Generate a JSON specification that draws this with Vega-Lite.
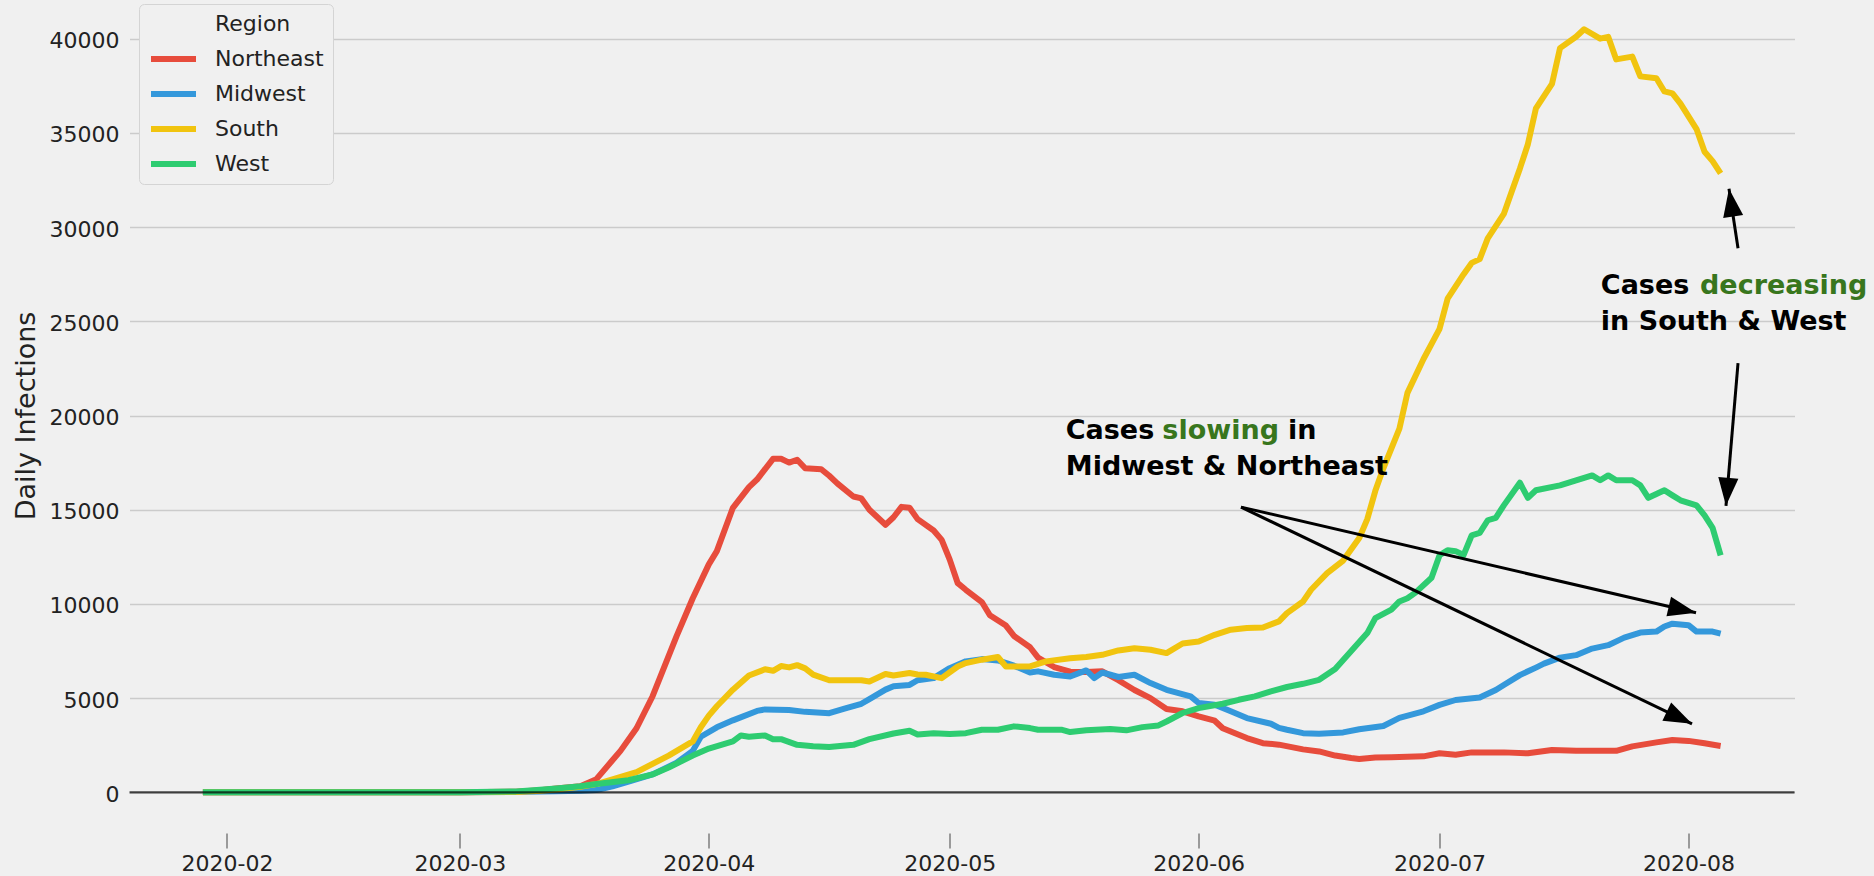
{
  "$schema": "https://vega.github.io/schema/vega-lite/v6.json",
  "width": 1665,
  "height": 829,
  "autosize": {"type": "none"},
  "padding": {"left": 129.5, "top": 1, "right": 79.5, "bottom": 46},
  "background": "#f0f0f0",
  "config": {"view": {"stroke": null}, "font": "DejaVu Sans"},
  "datasets": {
    "series": [
      {"date": "2020-01-29", "region": "Northeast", "cases": 0},
      {"date": "2020-02-15", "region": "Northeast", "cases": 0},
      {"date": "2020-03-01", "region": "Northeast", "cases": 3},
      {"date": "2020-03-08", "region": "Northeast", "cases": 30},
      {"date": "2020-03-11", "region": "Northeast", "cases": 110},
      {"date": "2020-03-13", "region": "Northeast", "cases": 200},
      {"date": "2020-03-16", "region": "Northeast", "cases": 320},
      {"date": "2020-03-18", "region": "Northeast", "cases": 700},
      {"date": "2020-03-20", "region": "Northeast", "cases": 1700},
      {"date": "2020-03-21", "region": "Northeast", "cases": 2200},
      {"date": "2020-03-23", "region": "Northeast", "cases": 3400},
      {"date": "2020-03-25", "region": "Northeast", "cases": 5100},
      {"date": "2020-03-28", "region": "Northeast", "cases": 8300},
      {"date": "2020-03-30", "region": "Northeast", "cases": 10300},
      {"date": "2020-04-01", "region": "Northeast", "cases": 12100},
      {"date": "2020-04-02", "region": "Northeast", "cases": 12800},
      {"date": "2020-04-04", "region": "Northeast", "cases": 15100},
      {"date": "2020-04-06", "region": "Northeast", "cases": 16200},
      {"date": "2020-04-07", "region": "Northeast", "cases": 16600},
      {"date": "2020-04-09", "region": "Northeast", "cases": 17700},
      {"date": "2020-04-10", "region": "Northeast", "cases": 17700},
      {"date": "2020-04-11", "region": "Northeast", "cases": 17500},
      {"date": "2020-04-12", "region": "Northeast", "cases": 17650},
      {"date": "2020-04-13", "region": "Northeast", "cases": 17200},
      {"date": "2020-04-15", "region": "Northeast", "cases": 17150},
      {"date": "2020-04-16", "region": "Northeast", "cases": 16800},
      {"date": "2020-04-17", "region": "Northeast", "cases": 16400},
      {"date": "2020-04-19", "region": "Northeast", "cases": 15700},
      {"date": "2020-04-20", "region": "Northeast", "cases": 15600},
      {"date": "2020-04-21", "region": "Northeast", "cases": 15000},
      {"date": "2020-04-23", "region": "Northeast", "cases": 14200},
      {"date": "2020-04-24", "region": "Northeast", "cases": 14600},
      {"date": "2020-04-25", "region": "Northeast", "cases": 15150},
      {"date": "2020-04-26", "region": "Northeast", "cases": 15100},
      {"date": "2020-04-27", "region": "Northeast", "cases": 14500},
      {"date": "2020-04-29", "region": "Northeast", "cases": 13900},
      {"date": "2020-04-30", "region": "Northeast", "cases": 13400},
      {"date": "2020-05-01", "region": "Northeast", "cases": 12350},
      {"date": "2020-05-02", "region": "Northeast", "cases": 11100},
      {"date": "2020-05-03", "region": "Northeast", "cases": 10750},
      {"date": "2020-05-05", "region": "Northeast", "cases": 10100},
      {"date": "2020-05-06", "region": "Northeast", "cases": 9400},
      {"date": "2020-05-08", "region": "Northeast", "cases": 8850},
      {"date": "2020-05-09", "region": "Northeast", "cases": 8300},
      {"date": "2020-05-11", "region": "Northeast", "cases": 7700},
      {"date": "2020-05-12", "region": "Northeast", "cases": 7150},
      {"date": "2020-05-14", "region": "Northeast", "cases": 6650},
      {"date": "2020-05-16", "region": "Northeast", "cases": 6400},
      {"date": "2020-05-18", "region": "Northeast", "cases": 6380},
      {"date": "2020-05-20", "region": "Northeast", "cases": 6420},
      {"date": "2020-05-22", "region": "Northeast", "cases": 5950},
      {"date": "2020-05-24", "region": "Northeast", "cases": 5430},
      {"date": "2020-05-26", "region": "Northeast", "cases": 5000},
      {"date": "2020-05-28", "region": "Northeast", "cases": 4420},
      {"date": "2020-05-30", "region": "Northeast", "cases": 4300},
      {"date": "2020-06-01", "region": "Northeast", "cases": 4030},
      {"date": "2020-06-03", "region": "Northeast", "cases": 3800},
      {"date": "2020-06-04", "region": "Northeast", "cases": 3400},
      {"date": "2020-06-07", "region": "Northeast", "cases": 2880},
      {"date": "2020-06-09", "region": "Northeast", "cases": 2610},
      {"date": "2020-06-11", "region": "Northeast", "cases": 2530},
      {"date": "2020-06-14", "region": "Northeast", "cases": 2280},
      {"date": "2020-06-16", "region": "Northeast", "cases": 2170},
      {"date": "2020-06-18", "region": "Northeast", "cases": 1950},
      {"date": "2020-06-20", "region": "Northeast", "cases": 1820},
      {"date": "2020-06-21", "region": "Northeast", "cases": 1770},
      {"date": "2020-06-23", "region": "Northeast", "cases": 1850},
      {"date": "2020-06-25", "region": "Northeast", "cases": 1860},
      {"date": "2020-06-29", "region": "Northeast", "cases": 1910},
      {"date": "2020-07-01", "region": "Northeast", "cases": 2070},
      {"date": "2020-07-03", "region": "Northeast", "cases": 1990},
      {"date": "2020-07-05", "region": "Northeast", "cases": 2120},
      {"date": "2020-07-09", "region": "Northeast", "cases": 2120},
      {"date": "2020-07-12", "region": "Northeast", "cases": 2070},
      {"date": "2020-07-15", "region": "Northeast", "cases": 2250},
      {"date": "2020-07-18", "region": "Northeast", "cases": 2200},
      {"date": "2020-07-20", "region": "Northeast", "cases": 2200},
      {"date": "2020-07-23", "region": "Northeast", "cases": 2200},
      {"date": "2020-07-25", "region": "Northeast", "cases": 2440},
      {"date": "2020-07-28", "region": "Northeast", "cases": 2650},
      {"date": "2020-07-30", "region": "Northeast", "cases": 2780},
      {"date": "2020-08-01", "region": "Northeast", "cases": 2730},
      {"date": "2020-08-03", "region": "Northeast", "cases": 2600},
      {"date": "2020-08-05", "region": "Northeast", "cases": 2460},

      {"date": "2020-01-29", "region": "Midwest", "cases": 0},
      {"date": "2020-02-15", "region": "Midwest", "cases": 0},
      {"date": "2020-03-01", "region": "Midwest", "cases": 2},
      {"date": "2020-03-08", "region": "Midwest", "cases": 15},
      {"date": "2020-03-11", "region": "Midwest", "cases": 40},
      {"date": "2020-03-13", "region": "Midwest", "cases": 60},
      {"date": "2020-03-16", "region": "Midwest", "cases": 80},
      {"date": "2020-03-18", "region": "Midwest", "cases": 120},
      {"date": "2020-03-20", "region": "Midwest", "cases": 320},
      {"date": "2020-03-22", "region": "Midwest", "cases": 570},
      {"date": "2020-03-25", "region": "Midwest", "cases": 950},
      {"date": "2020-03-28", "region": "Midwest", "cases": 1570},
      {"date": "2020-03-30", "region": "Midwest", "cases": 2200},
      {"date": "2020-03-31", "region": "Midwest", "cases": 2950},
      {"date": "2020-04-02", "region": "Midwest", "cases": 3450},
      {"date": "2020-04-04", "region": "Midwest", "cases": 3820},
      {"date": "2020-04-07", "region": "Midwest", "cases": 4320},
      {"date": "2020-04-08", "region": "Midwest", "cases": 4400},
      {"date": "2020-04-11", "region": "Midwest", "cases": 4370},
      {"date": "2020-04-13", "region": "Midwest", "cases": 4270},
      {"date": "2020-04-16", "region": "Midwest", "cases": 4200},
      {"date": "2020-04-18", "region": "Midwest", "cases": 4450},
      {"date": "2020-04-20", "region": "Midwest", "cases": 4700},
      {"date": "2020-04-21", "region": "Midwest", "cases": 4950},
      {"date": "2020-04-23", "region": "Midwest", "cases": 5450},
      {"date": "2020-04-24", "region": "Midwest", "cases": 5630},
      {"date": "2020-04-26", "region": "Midwest", "cases": 5700},
      {"date": "2020-04-27", "region": "Midwest", "cases": 5950},
      {"date": "2020-04-29", "region": "Midwest", "cases": 6060},
      {"date": "2020-05-01", "region": "Midwest", "cases": 6590},
      {"date": "2020-05-03", "region": "Midwest", "cases": 6950},
      {"date": "2020-05-05", "region": "Midwest", "cases": 7070},
      {"date": "2020-05-07", "region": "Midwest", "cases": 7000},
      {"date": "2020-05-09", "region": "Midwest", "cases": 6720},
      {"date": "2020-05-11", "region": "Midwest", "cases": 6360},
      {"date": "2020-05-12", "region": "Midwest", "cases": 6420},
      {"date": "2020-05-14", "region": "Midwest", "cases": 6240},
      {"date": "2020-05-16", "region": "Midwest", "cases": 6150},
      {"date": "2020-05-18", "region": "Midwest", "cases": 6470},
      {"date": "2020-05-19", "region": "Midwest", "cases": 6060},
      {"date": "2020-05-20", "region": "Midwest", "cases": 6360},
      {"date": "2020-05-22", "region": "Midwest", "cases": 6120},
      {"date": "2020-05-24", "region": "Midwest", "cases": 6240},
      {"date": "2020-05-26", "region": "Midwest", "cases": 5800},
      {"date": "2020-05-28", "region": "Midwest", "cases": 5440},
      {"date": "2020-05-31", "region": "Midwest", "cases": 5090},
      {"date": "2020-06-01", "region": "Midwest", "cases": 4740},
      {"date": "2020-06-03", "region": "Midwest", "cases": 4650},
      {"date": "2020-06-05", "region": "Midwest", "cases": 4300},
      {"date": "2020-06-07", "region": "Midwest", "cases": 3940},
      {"date": "2020-06-10", "region": "Midwest", "cases": 3640},
      {"date": "2020-06-11", "region": "Midwest", "cases": 3420},
      {"date": "2020-06-12", "region": "Midwest", "cases": 3320},
      {"date": "2020-06-14", "region": "Midwest", "cases": 3140},
      {"date": "2020-06-16", "region": "Midwest", "cases": 3110},
      {"date": "2020-06-19", "region": "Midwest", "cases": 3180},
      {"date": "2020-06-21", "region": "Midwest", "cases": 3350},
      {"date": "2020-06-24", "region": "Midwest", "cases": 3520},
      {"date": "2020-06-26", "region": "Midwest", "cases": 3950},
      {"date": "2020-06-29", "region": "Midwest", "cases": 4300},
      {"date": "2020-07-01", "region": "Midwest", "cases": 4640},
      {"date": "2020-07-03", "region": "Midwest", "cases": 4900},
      {"date": "2020-07-06", "region": "Midwest", "cases": 5030},
      {"date": "2020-07-08", "region": "Midwest", "cases": 5430},
      {"date": "2020-07-09", "region": "Midwest", "cases": 5700},
      {"date": "2020-07-11", "region": "Midwest", "cases": 6220},
      {"date": "2020-07-13", "region": "Midwest", "cases": 6620},
      {"date": "2020-07-14", "region": "Midwest", "cases": 6830},
      {"date": "2020-07-16", "region": "Midwest", "cases": 7150},
      {"date": "2020-07-18", "region": "Midwest", "cases": 7280},
      {"date": "2020-07-20", "region": "Midwest", "cases": 7630},
      {"date": "2020-07-22", "region": "Midwest", "cases": 7810},
      {"date": "2020-07-24", "region": "Midwest", "cases": 8210},
      {"date": "2020-07-26", "region": "Midwest", "cases": 8480},
      {"date": "2020-07-28", "region": "Midwest", "cases": 8530},
      {"date": "2020-07-29", "region": "Midwest", "cases": 8800},
      {"date": "2020-07-30", "region": "Midwest", "cases": 8950},
      {"date": "2020-08-01", "region": "Midwest", "cases": 8870},
      {"date": "2020-08-02", "region": "Midwest", "cases": 8530},
      {"date": "2020-08-04", "region": "Midwest", "cases": 8530},
      {"date": "2020-08-05", "region": "Midwest", "cases": 8420},

      {"date": "2020-01-29", "region": "South", "cases": 0},
      {"date": "2020-02-15", "region": "South", "cases": 0},
      {"date": "2020-03-01", "region": "South", "cases": 2},
      {"date": "2020-03-08", "region": "South", "cases": 20},
      {"date": "2020-03-11", "region": "South", "cases": 80},
      {"date": "2020-03-13", "region": "South", "cases": 150},
      {"date": "2020-03-16", "region": "South", "cases": 300},
      {"date": "2020-03-18", "region": "South", "cases": 440},
      {"date": "2020-03-20", "region": "South", "cases": 690},
      {"date": "2020-03-23", "region": "South", "cases": 1070},
      {"date": "2020-03-27", "region": "South", "cases": 1950},
      {"date": "2020-03-30", "region": "South", "cases": 2700},
      {"date": "2020-03-31", "region": "South", "cases": 3450},
      {"date": "2020-04-01", "region": "South", "cases": 4070},
      {"date": "2020-04-02", "region": "South", "cases": 4570},
      {"date": "2020-04-04", "region": "South", "cases": 5450},
      {"date": "2020-04-06", "region": "South", "cases": 6200},
      {"date": "2020-04-08", "region": "South", "cases": 6530},
      {"date": "2020-04-09", "region": "South", "cases": 6450},
      {"date": "2020-04-10", "region": "South", "cases": 6700},
      {"date": "2020-04-11", "region": "South", "cases": 6630},
      {"date": "2020-04-12", "region": "South", "cases": 6750},
      {"date": "2020-04-13", "region": "South", "cases": 6580},
      {"date": "2020-04-14", "region": "South", "cases": 6250},
      {"date": "2020-04-16", "region": "South", "cases": 5950},
      {"date": "2020-04-18", "region": "South", "cases": 5950},
      {"date": "2020-04-20", "region": "South", "cases": 5950},
      {"date": "2020-04-21", "region": "South", "cases": 5880},
      {"date": "2020-04-23", "region": "South", "cases": 6280},
      {"date": "2020-04-24", "region": "South", "cases": 6200},
      {"date": "2020-04-26", "region": "South", "cases": 6330},
      {"date": "2020-04-27", "region": "South", "cases": 6250},
      {"date": "2020-04-28", "region": "South", "cases": 6240},
      {"date": "2020-04-30", "region": "South", "cases": 6060},
      {"date": "2020-05-02", "region": "South", "cases": 6680},
      {"date": "2020-05-03", "region": "South", "cases": 6860},
      {"date": "2020-05-05", "region": "South", "cases": 7040},
      {"date": "2020-05-07", "region": "South", "cases": 7180},
      {"date": "2020-05-08", "region": "South", "cases": 6680},
      {"date": "2020-05-11", "region": "South", "cases": 6680},
      {"date": "2020-05-13", "region": "South", "cases": 6950},
      {"date": "2020-05-16", "region": "South", "cases": 7120},
      {"date": "2020-05-18", "region": "South", "cases": 7180},
      {"date": "2020-05-20", "region": "South", "cases": 7300},
      {"date": "2020-05-22", "region": "South", "cases": 7530},
      {"date": "2020-05-24", "region": "South", "cases": 7650},
      {"date": "2020-05-26", "region": "South", "cases": 7570},
      {"date": "2020-05-28", "region": "South", "cases": 7390},
      {"date": "2020-05-30", "region": "South", "cases": 7900},
      {"date": "2020-06-01", "region": "South", "cases": 8010},
      {"date": "2020-06-03", "region": "South", "cases": 8360},
      {"date": "2020-06-05", "region": "South", "cases": 8630},
      {"date": "2020-06-07", "region": "South", "cases": 8720},
      {"date": "2020-06-09", "region": "South", "cases": 8750},
      {"date": "2020-06-11", "region": "South", "cases": 9070},
      {"date": "2020-06-12", "region": "South", "cases": 9510},
      {"date": "2020-06-14", "region": "South", "cases": 10130},
      {"date": "2020-06-15", "region": "South", "cases": 10750},
      {"date": "2020-06-17", "region": "South", "cases": 11630},
      {"date": "2020-06-19", "region": "South", "cases": 12300},
      {"date": "2020-06-21", "region": "South", "cases": 13500},
      {"date": "2020-06-22", "region": "South", "cases": 14500},
      {"date": "2020-06-23", "region": "South", "cases": 16000},
      {"date": "2020-06-24", "region": "South", "cases": 17200},
      {"date": "2020-06-26", "region": "South", "cases": 19300},
      {"date": "2020-06-27", "region": "South", "cases": 21200},
      {"date": "2020-06-29", "region": "South", "cases": 23000},
      {"date": "2020-07-01", "region": "South", "cases": 24600},
      {"date": "2020-07-02", "region": "South", "cases": 26200},
      {"date": "2020-07-04", "region": "South", "cases": 27500},
      {"date": "2020-07-05", "region": "South", "cases": 28100},
      {"date": "2020-07-06", "region": "South", "cases": 28300},
      {"date": "2020-07-07", "region": "South", "cases": 29400},
      {"date": "2020-07-09", "region": "South", "cases": 30700},
      {"date": "2020-07-10", "region": "South", "cases": 31900},
      {"date": "2020-07-11", "region": "South", "cases": 33100},
      {"date": "2020-07-12", "region": "South", "cases": 34400},
      {"date": "2020-07-13", "region": "South", "cases": 36300},
      {"date": "2020-07-15", "region": "South", "cases": 37600},
      {"date": "2020-07-16", "region": "South", "cases": 39500},
      {"date": "2020-07-18", "region": "South", "cases": 40100},
      {"date": "2020-07-19", "region": "South", "cases": 40500},
      {"date": "2020-07-21", "region": "South", "cases": 40000},
      {"date": "2020-07-22", "region": "South", "cases": 40100},
      {"date": "2020-07-23", "region": "South", "cases": 38900},
      {"date": "2020-07-25", "region": "South", "cases": 39050},
      {"date": "2020-07-26", "region": "South", "cases": 38000},
      {"date": "2020-07-28", "region": "South", "cases": 37900},
      {"date": "2020-07-29", "region": "South", "cases": 37200},
      {"date": "2020-07-30", "region": "South", "cases": 37100},
      {"date": "2020-07-31", "region": "South", "cases": 36550},
      {"date": "2020-08-02", "region": "South", "cases": 35200},
      {"date": "2020-08-03", "region": "South", "cases": 34000},
      {"date": "2020-08-04", "region": "South", "cases": 33500},
      {"date": "2020-08-05", "region": "South", "cases": 32850},

      {"date": "2020-01-29", "region": "West", "cases": 0},
      {"date": "2020-02-15", "region": "West", "cases": 0},
      {"date": "2020-03-01", "region": "West", "cases": 10},
      {"date": "2020-03-08", "region": "West", "cases": 50},
      {"date": "2020-03-11", "region": "West", "cases": 130},
      {"date": "2020-03-13", "region": "West", "cases": 200},
      {"date": "2020-03-16", "region": "West", "cases": 320},
      {"date": "2020-03-18", "region": "West", "cases": 440},
      {"date": "2020-03-22", "region": "West", "cases": 640},
      {"date": "2020-03-25", "region": "West", "cases": 950},
      {"date": "2020-03-27", "region": "West", "cases": 1320},
      {"date": "2020-03-30", "region": "West", "cases": 1950},
      {"date": "2020-04-01", "region": "West", "cases": 2320},
      {"date": "2020-04-04", "region": "West", "cases": 2700},
      {"date": "2020-04-05", "region": "West", "cases": 3020},
      {"date": "2020-04-06", "region": "West", "cases": 2950},
      {"date": "2020-04-08", "region": "West", "cases": 3020},
      {"date": "2020-04-09", "region": "West", "cases": 2820},
      {"date": "2020-04-10", "region": "West", "cases": 2820},
      {"date": "2020-04-12", "region": "West", "cases": 2520},
      {"date": "2020-04-14", "region": "West", "cases": 2450},
      {"date": "2020-04-16", "region": "West", "cases": 2400},
      {"date": "2020-04-19", "region": "West", "cases": 2520},
      {"date": "2020-04-21", "region": "West", "cases": 2820},
      {"date": "2020-04-24", "region": "West", "cases": 3120},
      {"date": "2020-04-26", "region": "West", "cases": 3270},
      {"date": "2020-04-27", "region": "West", "cases": 3070},
      {"date": "2020-04-29", "region": "West", "cases": 3140},
      {"date": "2020-05-01", "region": "West", "cases": 3090},
      {"date": "2020-05-03", "region": "West", "cases": 3140},
      {"date": "2020-05-05", "region": "West", "cases": 3320},
      {"date": "2020-05-07", "region": "West", "cases": 3320},
      {"date": "2020-05-09", "region": "West", "cases": 3500},
      {"date": "2020-05-11", "region": "West", "cases": 3410},
      {"date": "2020-05-12", "region": "West", "cases": 3320},
      {"date": "2020-05-15", "region": "West", "cases": 3320},
      {"date": "2020-05-16", "region": "West", "cases": 3200},
      {"date": "2020-05-18", "region": "West", "cases": 3290},
      {"date": "2020-05-21", "region": "West", "cases": 3360},
      {"date": "2020-05-23", "region": "West", "cases": 3290},
      {"date": "2020-05-25", "region": "West", "cases": 3460},
      {"date": "2020-05-27", "region": "West", "cases": 3550},
      {"date": "2020-05-28", "region": "West", "cases": 3760},
      {"date": "2020-05-30", "region": "West", "cases": 4210},
      {"date": "2020-06-01", "region": "West", "cases": 4470},
      {"date": "2020-06-04", "region": "West", "cases": 4700},
      {"date": "2020-06-06", "region": "West", "cases": 4910},
      {"date": "2020-06-08", "region": "West", "cases": 5090},
      {"date": "2020-06-10", "region": "West", "cases": 5360},
      {"date": "2020-06-12", "region": "West", "cases": 5590},
      {"date": "2020-06-14", "region": "West", "cases": 5760},
      {"date": "2020-06-16", "region": "West", "cases": 5970},
      {"date": "2020-06-18", "region": "West", "cases": 6550},
      {"date": "2020-06-20", "region": "West", "cases": 7500},
      {"date": "2020-06-22", "region": "West", "cases": 8450},
      {"date": "2020-06-23", "region": "West", "cases": 9250},
      {"date": "2020-06-25", "region": "West", "cases": 9700},
      {"date": "2020-06-26", "region": "West", "cases": 10130},
      {"date": "2020-06-27", "region": "West", "cases": 10300},
      {"date": "2020-06-28", "region": "West", "cases": 10600},
      {"date": "2020-06-30", "region": "West", "cases": 11390},
      {"date": "2020-07-01", "region": "West", "cases": 12580},
      {"date": "2020-07-02", "region": "West", "cases": 12850},
      {"date": "2020-07-03", "region": "West", "cases": 12800},
      {"date": "2020-07-04", "region": "West", "cases": 12600},
      {"date": "2020-07-05", "region": "West", "cases": 13640},
      {"date": "2020-07-06", "region": "West", "cases": 13770},
      {"date": "2020-07-07", "region": "West", "cases": 14440},
      {"date": "2020-07-08", "region": "West", "cases": 14570},
      {"date": "2020-07-09", "region": "West", "cases": 15230},
      {"date": "2020-07-11", "region": "West", "cases": 16430},
      {"date": "2020-07-12", "region": "West", "cases": 15630},
      {"date": "2020-07-13", "region": "West", "cases": 16030},
      {"date": "2020-07-16", "region": "West", "cases": 16290},
      {"date": "2020-07-18", "region": "West", "cases": 16560},
      {"date": "2020-07-20", "region": "West", "cases": 16820},
      {"date": "2020-07-21", "region": "West", "cases": 16560},
      {"date": "2020-07-22", "region": "West", "cases": 16820},
      {"date": "2020-07-23", "region": "West", "cases": 16560},
      {"date": "2020-07-25", "region": "West", "cases": 16560},
      {"date": "2020-07-26", "region": "West", "cases": 16290},
      {"date": "2020-07-27", "region": "West", "cases": 15630},
      {"date": "2020-07-29", "region": "West", "cases": 16030},
      {"date": "2020-07-30", "region": "West", "cases": 15760},
      {"date": "2020-07-31", "region": "West", "cases": 15500},
      {"date": "2020-08-02", "region": "West", "cases": 15230},
      {"date": "2020-08-03", "region": "West", "cases": 14700},
      {"date": "2020-08-04", "region": "West", "cases": 14040},
      {"date": "2020-08-05", "region": "West", "cases": 12580}
    ],
    "notes": [
      {"date": "2020-05-15T10:50:00Z", "cases": 18747, "text": "Cases", "highlight": false},
      {"date": "2020-05-27T11:30:00Z", "cases": 18747, "text": "slowing", "highlight": true},
      {"date": "2020-06-12T03:00:00Z", "cases": 18747, "text": "in", "highlight": false},
      {"date": "2020-05-15T10:50:00Z", "cases": 16852, "text": "Midwest & Northeast", "highlight": false},
      {"date": "2020-07-21T02:00:00Z", "cases": 26444, "text": "Cases", "highlight": false},
      {"date": "2020-08-02T10:30:00Z", "cases": 26444, "text": "decreasing", "highlight": true},
      {"date": "2020-07-21T02:00:00Z", "cases": 24549, "text": "in South & West", "highlight": false}
    ],
    "arrows": [
      {"arrow": "a1", "from_date": "2020-06-06T06:40:00Z", "from_cases": 15138, "to_date": "2020-08-01T22:30:00Z", "to_cases": 9527},
      {"arrow": "a2", "from_date": "2020-06-06T06:40:00Z", "from_cases": 15138, "to_date": "2020-08-01T10:30:00Z", "to_cases": 3636},
      {"arrow": "a3", "from_date": "2020-08-07T04:00:00Z", "from_cases": 22781, "to_date": "2020-08-05T16:00:00Z", "to_cases": 15207},
      {"arrow": "a4", "from_date": "2020-08-07T04:00:00Z", "from_cases": 28880, "to_date": "2020-08-06T01:00:00Z", "to_cases": 32033}
    ]
  },
  "layer": [
    {
      "data": {"name": "series"},
      "mark": {"type": "line", "strokeWidth": 6, "strokeJoin": "round"},
      "encoding": {
        "x": {
          "field": "date", "type": "temporal",
          "scale": {"type": "utc", "domain": [
            {"year": 2020, "month": 1, "date": 19, "hours": 20, "minutes": 38, "utc": true},
            {"year": 2020, "month": 8, "date": 14, "hours": 4, "minutes": 48, "utc": true}
          ]},
          "axis": {
            "title": null,
            "values": [
              {"year": 2020, "month": 2, "date": 1, "utc": true},
              {"year": 2020, "month": 3, "date": 1, "utc": true},
              {"year": 2020, "month": 4, "date": 1, "utc": true},
              {"year": 2020, "month": 5, "date": 1, "utc": true},
              {"year": 2020, "month": 6, "date": 1, "utc": true},
              {"year": 2020, "month": 7, "date": 1, "utc": true},
              {"year": 2020, "month": 8, "date": 1, "utc": true}
            ],
            "labelExpr": "utcFormat(datum.value, '%Y-%m')",
            "domain": false, "grid": false, "ticks": true,
            "tickSize": 15, "tickColor": "#444444", "tickWidth": 1,
            "offset": 3, "labelPadding": 5,
            "labelFont": "DejaVu Sans", "labelFontSize": 22, "labelColor": "#222222",
            "labelFlush": false, "labelOverlap": false
          }
        },
        "y": {
          "field": "cases", "type": "quantitative",
          "scale": {"domain": [-2000, 42000], "nice": false, "zero": false},
          "axis": {
            "title": "Daily Infections",
            "values": [0, 5000, 10000, 15000, 20000, 25000, 30000, 35000, 40000],
            "format": "d", "domain": false, "ticks": false, "tickSize": 0,
            "labelPadding": 10.5, "labelOffset": 2,
            "grid": true, "gridColor": "#cbcbcb", "gridWidth": 1.5,
            "labelFont": "DejaVu Sans", "labelFontSize": 22, "labelColor": "#222222",
            "titleFont": "DejaVu Sans", "titleFontSize": 27, "titleFontWeight": "normal",
            "titleColor": "#222222", "titlePadding": 9
          }
        },
        "color": {
          "field": "region", "type": "nominal",
          "scale": {
            "domain": ["Region", "Northeast", "Midwest", "South", "West"],
            "range": ["transparent", "#e74c3c", "#3498db", "#f1c40f", "#2ecc71"]
          },
          "legend": {
            "title": null, "orient": "none", "legendX": 9.5, "legendY": 3,
            "symbolType": "stroke", "symbolSize": 2025, "symbolStrokeWidth": 6,
            "labelFont": "DejaVu Sans", "labelFontSize": 22, "labelColor": "#222222",
            "labelOffset": 16, "labelLimit": 0, "clipHeight": 22, "rowPadding": 13, "padding": 9,
            "fillColor": "#f0f0f0", "strokeColor": "#d4d4d4", "cornerRadius": 5
          }
        }
      }
    },
    {
      "data": {"values": [{}]},
      "mark": {"type": "rule", "color": "black", "opacity": 0.7, "strokeWidth": 2.2},
      "encoding": {"y": {"datum": 0, "type": "quantitative"}}
    },
    {
      "data": {"name": "arrows"},
      "mark": {"type": "rule", "color": "black", "strokeWidth": 3},
      "encoding": {
        "x": {"field": "from_date", "type": "temporal"},
        "y": {"field": "from_cases", "type": "quantitative"},
        "x2": {"field": "to_date"},
        "y2": {"field": "to_cases"}
      }
    },
    {
      "data": {"name": "arrows"},
      "transform": [{"filter": "datum.arrow === 'a1'"}],
      "mark": {"type": "point", "shape": "M0,0L0.36,1L-0.36,1Z", "filled": true, "size": 3136, "angle": 103.1, "color": "black", "opacity": 1, "strokeWidth": 0},
      "encoding": {
        "x": {"field": "to_date", "type": "temporal"},
        "y": {"field": "to_cases", "type": "quantitative"}
      }
    },
    {
      "data": {"name": "arrows"},
      "transform": [{"filter": "datum.arrow === 'a2'"}],
      "mark": {"type": "point", "shape": "M0,0L0.36,1L-0.36,1Z", "filled": true, "size": 3136, "angle": 115.7, "color": "black", "opacity": 1, "strokeWidth": 0},
      "encoding": {
        "x": {"field": "to_date", "type": "temporal"},
        "y": {"field": "to_cases", "type": "quantitative"}
      }
    },
    {
      "data": {"name": "arrows"},
      "transform": [{"filter": "datum.arrow === 'a3'"}],
      "mark": {"type": "point", "shape": "M0,0L0.36,1L-0.36,1Z", "filled": true, "size": 3136, "angle": 184.8, "color": "black", "opacity": 1, "strokeWidth": 0},
      "encoding": {
        "x": {"field": "to_date", "type": "temporal"},
        "y": {"field": "to_cases", "type": "quantitative"}
      }
    },
    {
      "data": {"name": "arrows"},
      "transform": [{"filter": "datum.arrow === 'a4'"}],
      "mark": {"type": "point", "shape": "M0,0L0.36,1L-0.36,1Z", "filled": true, "size": 3136, "angle": 351.4, "color": "black", "opacity": 1, "strokeWidth": 0},
      "encoding": {
        "x": {"field": "to_date", "type": "temporal"},
        "y": {"field": "to_cases", "type": "quantitative"}
      }
    },
    {
      "data": {"name": "notes"},
      "mark": {"type": "text", "align": "left", "baseline": "alphabetic", "font": "DejaVu Sans", "fontWeight": "bold", "fontSize": 27},
      "encoding": {
        "x": {"field": "date", "type": "temporal"},
        "y": {"field": "cases", "type": "quantitative"},
        "text": {"field": "text"},
        "color": {"condition": {"test": "datum.highlight", "value": "#38761d"}, "value": "#000000"}
      }
    }
  ]
}
